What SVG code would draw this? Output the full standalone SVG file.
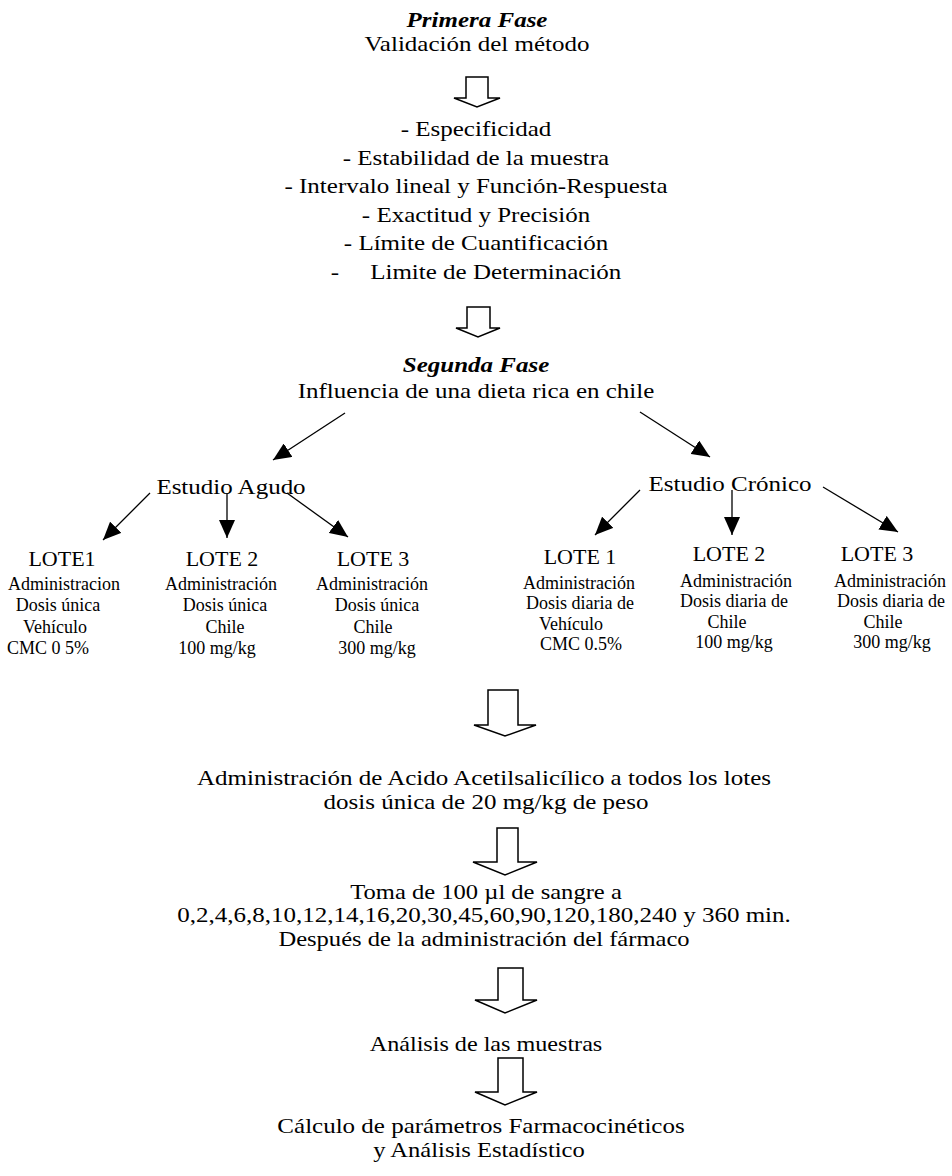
<svg xmlns="http://www.w3.org/2000/svg" width="952" height="1176" viewBox="0 0 952 1176">
<style>
text{font-family:"Liberation Serif","Times New Roman",serif;fill:#000;text-anchor:middle}
.t{font-size:21px}
.h{font-size:21px;font-weight:bold;font-style:italic}
.lo{font-size:22px}
.s{font-size:18px}
.hollow{fill:#fff;stroke:#000;stroke-width:1.5;stroke-linejoin:miter}
.ln{stroke:#000;stroke-width:1.3;fill:none;marker-end:url(#ah)}
</style>
<defs>
<marker id="ah" markerUnits="userSpaceOnUse" viewBox="0 0 18 16" refX="18" refY="8" markerWidth="18" markerHeight="16" orient="auto">
<path d="M0,0 L18,8 L0,16 Z" fill="#000"/>
</marker>
</defs>
<rect width="952" height="1176" fill="#fff"/>
<g id="fase1">
<text class="h" transform="translate(477,27) scale(1.19,1)">Primera Fase</text>
<text class="t" transform="translate(477,50.5) scale(1.19,1)">Validación del método</text>
</g>
<g id="lista">
<text class="t" transform="translate(476,136) scale(1.19,1)">- Especificidad</text>
<text class="t" transform="translate(476,164.5) scale(1.19,1)">- Estabilidad de la muestra</text>
<text class="t" transform="translate(476,193) scale(1.19,1)">- Intervalo lineal y Función-Respuesta</text>
<text class="t" transform="translate(476,221.5) scale(1.19,1)">- Exactitud y Precisión</text>
<text class="t" transform="translate(476,250) scale(1.19,1)">- Límite de Cuantificación</text>
<text class="t" transform="translate(476,278.5) scale(1.19,1)" xml:space="preserve">-     Limite de Determinación</text>
</g>
<g id="fase2">
<text class="h" transform="translate(476,372) scale(1.19,1)">Segunda Fase</text>
<text class="t" transform="translate(476,398) scale(1.19,1)">Influencia de una dieta rica en chile</text>
</g>
<g id="agudo"><text class="t" transform="translate(231,494) scale(1.19,1)">Estudio Agudo</text></g>
<g id="cronico"><text class="t" transform="translate(730,491) scale(1.19,1)">Estudio Crónico</text></g>
<g id="a-lote1">
<text class="lo" x="62" y="566">LOTE1</text>
<text class="s" x="64" y="590">Administracion</text>
<text class="s" x="58" y="611">Dosis única</text>
<text class="s" x="55" y="633">Vehículo</text>
<text class="s" x="48" y="654">CMC 0 5%</text>
</g>
<g id="a-lote2">
<text class="lo" x="222" y="566">LOTE 2</text>
<text class="s" x="221" y="590">Administración</text>
<text class="s" x="225" y="611">Dosis única</text>
<text class="s" x="225" y="633">Chile</text>
<text class="s" x="217" y="654">100 mg/kg</text>
</g>
<g id="a-lote3">
<text class="lo" x="373" y="566">LOTE 3</text>
<text class="s" x="372" y="590">Administración</text>
<text class="s" x="377" y="611">Dosis única</text>
<text class="s" x="373" y="633">Chile</text>
<text class="s" x="377" y="654">300 mg/kg</text>
</g>
<g id="c-lote1">
<text class="lo" x="580" y="564">LOTE 1</text>
<text class="s" x="579" y="589">Administración</text>
<text class="s" x="580" y="609">Dosis diaria de</text>
<text class="s" x="571" y="630">Vehículo</text>
<text class="s" x="581" y="650">CMC 0.5%</text>
</g>
<g id="c-lote2">
<text class="lo" x="729" y="561">LOTE 2</text>
<text class="s" x="736" y="587">Administración</text>
<text class="s" x="734" y="607">Dosis diaria de</text>
<text class="s" x="727" y="628">Chile</text>
<text class="s" x="734" y="648">100 mg/kg</text>
</g>
<g id="c-lote3">
<text class="lo" x="877" y="561">LOTE 3</text>
<text class="s" x="890" y="587">Administración</text>
<text class="s" x="891" y="607">Dosis diaria de</text>
<text class="s" x="883" y="628">Chile</text>
<text class="s" x="892" y="648">300 mg/kg</text>
</g>
<g id="acido">
<text class="t" transform="translate(484,785) scale(1.19,1)">Administración de Acido Acetilsalicílico a todos los lotes</text>
<text class="t" transform="translate(486,809) scale(1.19,1)">dosis única de 20 mg/kg de peso</text>
</g>
<g id="toma">
<text class="t" transform="translate(486,898.5) scale(1.17,1)">Toma de 100 µl de sangre a</text>
<text class="t" transform="translate(484,922) scale(1.19,1)">0,2,4,6,8,10,12,14,16,20,30,45,60,90,120,180,240 y 360 min.</text>
<text class="t" transform="translate(484,945.5) scale(1.17,1)">Después de la administración del fármaco</text>
</g>
<g id="analisis"><text class="t" transform="translate(486,1051) scale(1.15,1)">Análisis de las muestras</text></g>
<g id="calculo">
<text class="t" transform="translate(481,1133) scale(1.19,1)">Cálculo de parámetros Farmacocinéticos</text>
<text class="t" transform="translate(479,1157) scale(1.17,1)">y Análisis Estadístico</text>
</g>
<g id="connectors">
<path class="hollow" d="M466,77 H488 V98 H500 L477,107 L454,98 H466 Z"/>
<path class="hollow" d="M467,307 H490 V328 H500 L478,337 L456,328 H467 Z"/>
<path class="hollow" d="M488,690 H518 V725 H536 L505,736 L474,725 H488 Z"/>
<path class="hollow" d="M497,828 H518 V862 H537 L505,875 L473,862 H497 Z"/>
<path class="hollow" d="M498,968 H523 V1000 H537 L505,1013 L475,1000 H498 Z"/>
<path class="hollow" d="M498,1058 H523 V1092 H537 L505,1105 L475,1092 H498 Z"/>
<line class="ln" x1="345" y1="413" x2="273" y2="460"/>
<line class="ln" x1="640" y1="412" x2="710" y2="457"/>
<line class="ln" x1="150" y1="493" x2="103" y2="540"/>
<line class="ln" x1="227" y1="493" x2="227" y2="538"/>
<line class="ln" x1="287" y1="493" x2="348" y2="537"/>
<line class="ln" x1="640" y1="490" x2="595" y2="535"/>
<line class="ln" x1="732" y1="490" x2="732" y2="535"/>
<line class="ln" x1="823" y1="487" x2="898" y2="532"/>
</g>
</svg>
